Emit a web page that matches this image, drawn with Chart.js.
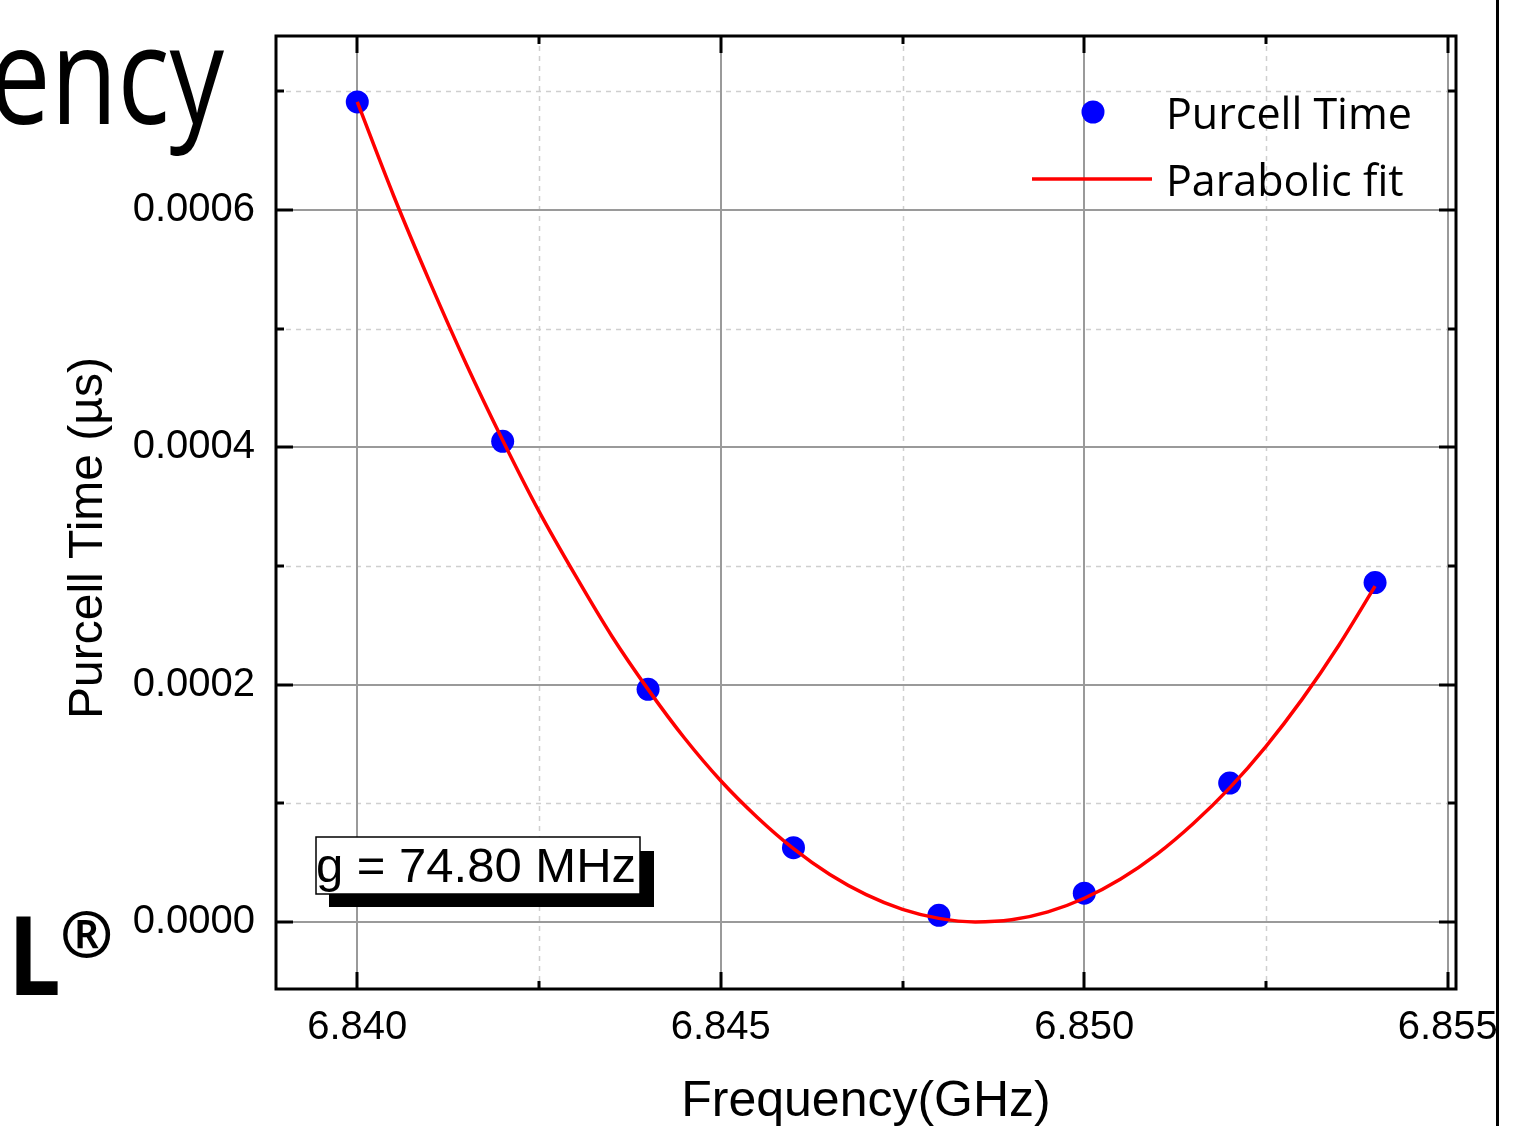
<!DOCTYPE html>
<html>
<head>
<meta charset="utf-8">
<script src="https://cdn.jsdelivr.net/npm/chart.js@4.4.1/dist/chart.umd.min.js"></script>
<style>
  html, body { margin: 0; padding: 0; background: #fff; }
  #wrap { position: relative; width: 1524px; height: 1126px; }
</style>
</head>
<body>
<div id="wrap"><canvas id="purcell" width="1524" height="1126"></canvas></div>
<script>
// measured points
const freqPoints = [6.840, 6.842, 6.844, 6.846, 6.848, 6.850, 6.852, 6.854]
const purcellTime = [0.000691, 0.000405, 0.000196, 0.0000626, 0.0000056, 0.0000242, 0.000117, 0.000286]

// parabolic fit, every 0.5 MHz
const fitFreq = [6.8400, 6.8405, 6.8410, 6.8415, 6.8420, 6.8425, 6.8430, 6.8435, 6.8440, 6.8445,
                 6.8450, 6.8455, 6.8460, 6.8465, 6.8470, 6.8475, 6.8480, 6.8485, 6.8490, 6.8495,
                 6.8500, 6.8505, 6.8510, 6.8515, 6.8520, 6.8525, 6.8530, 6.8535, 6.8540]
const fitTime = [0.000691, 0.000612, 0.000539, 0.000470, 0.000406, 0.000346, 0.000292, 0.000241, 0.000196, 0.000155,
                 0.000119, 0.0000883, 0.0000618, 0.0000400, 0.0000230, 0.0000106, 0.0000030, 0.0000000, 0.0000018, 0.0000085,
                 0.0000200, 0.0000362, 0.0000572, 0.0000830, 0.000113, 0.000148, 0.000188, 0.000233, 0.000283]

// axis ticks
const xMajorTicks = [6.840, 6.845, 6.850, 6.855]
const xMinorTicks = [6.8425, 6.8475, 6.8525]
const yMajorTicks = [0.0000, 0.0002, 0.0004, 0.0006]
const yMinorTicks = [0.0001, 0.0003, 0.0005, 0.0007]

const legendLabels = ["Purcell Time", "Parabolic fit"]
const noteText = "g = 74.80 MHz"

function isIn(v, arr) {
    return arr.some(a => Math.abs(a - v) < 1e-9)
}

function toXY(xs, ys) {
    return xs.map((x, i) => ({ x: x, y: ys[i] }))
}

const decor = {
    id: 'decor',
    beforeDatasetsDraw(chart) {
        const ctx = chart.ctx
        const a = chart.chartArea
        const xs = chart.scales.x, ys = chart.scales.y
        ctx.save()
        // minor grid, dashed
        ctx.strokeStyle = '#cfcfcf'
        ctx.lineWidth = 1.5
        ctx.setLineDash([5, 5])
        xMinorTicks.forEach(v => {
            const px = Math.round(xs.getPixelForValue(v)) + 0.5
            ctx.beginPath(); ctx.moveTo(px, a.top); ctx.lineTo(px, a.bottom); ctx.stroke()
        })
        yMinorTicks.forEach(v => {
            const py = Math.round(ys.getPixelForValue(v)) + 0.5
            ctx.beginPath(); ctx.moveTo(a.left, py); ctx.lineTo(a.right, py); ctx.stroke()
        })
        // major grid
        ctx.setLineDash([])
        ctx.strokeStyle = '#9a9a9a'
        ctx.lineWidth = 2
        xMajorTicks.forEach(v => {
            const px = Math.round(xs.getPixelForValue(v))
            ctx.beginPath(); ctx.moveTo(px, a.top); ctx.lineTo(px, a.bottom); ctx.stroke()
        })
        yMajorTicks.forEach(v => {
            const py = Math.round(ys.getPixelForValue(v))
            ctx.beginPath(); ctx.moveTo(a.left, py); ctx.lineTo(a.right, py); ctx.stroke()
        })
        ctx.restore()
    },
    afterDatasetsDraw(chart) {
        const ctx = chart.ctx
        const a = chart.chartArea
        const xs = chart.scales.x, ys = chart.scales.y
        ctx.save()

        // frame
        ctx.strokeStyle = '#000'
        ctx.lineWidth = 3
        ctx.strokeRect(a.left, a.top, a.right - a.left, a.bottom - a.top)

        // inward tick marks on all four sides
        ctx.lineWidth = 3
        const tick = (x1, y1, x2, y2) => { ctx.beginPath(); ctx.moveTo(x1, y1); ctx.lineTo(x2, y2); ctx.stroke() }
        xMajorTicks.concat(xMinorTicks).forEach(v => {
            const px = Math.round(xs.getPixelForValue(v))
            const len = isIn(v, xMajorTicks) ? 17 : 8
            tick(px, a.bottom, px, a.bottom - len)
            tick(px, a.top, px, a.top + len)
        })
        yMajorTicks.concat(yMinorTicks).forEach(v => {
            const py = Math.round(ys.getPixelForValue(v))
            const len = isIn(v, yMajorTicks) ? 17 : 8
            tick(a.left, py, a.left + len, py)
            tick(a.right, py, a.right - len, py)
        })

        // legend
        ctx.fillStyle = '#0000ff'
        ctx.beginPath(); ctx.arc(1093, 112, 11.5, 0, Math.PI * 2); ctx.fill()
        ctx.strokeStyle = '#ff0000'
        ctx.lineWidth = 3.5
        tick(1032, 179, 1152, 179)
        ctx.fillStyle = '#000'
        ctx.font = '43px "Open Sans"'
        ctx.textAlign = 'left'
        ctx.textBaseline = 'alphabetic'
        ctx.fillText(legendLabels[0], 1166, 129)
        ctx.fillText(legendLabels[1], 1166, 196)

        // g annotation with shadow
        ctx.fillStyle = '#000'
        ctx.fillRect(329, 851, 325, 56)
        ctx.fillStyle = '#fff'
        ctx.fillRect(316, 837, 324, 57)
        ctx.strokeStyle = '#000'
        ctx.lineWidth = 1.5
        ctx.strokeRect(316, 837, 324, 57)
        ctx.fillStyle = '#000'
        ctx.font = '49px "Liberation Sans"'
        ctx.fillText(noteText, 316, 882)

        // axis titles
        ctx.font = '50px "Liberation Sans"'
        ctx.textAlign = 'center'
        ctx.fillText('Frequency(GHz)', (a.left + a.right) / 2, 1116)
        ctx.save()
        ctx.translate(102, 538)
        ctx.rotate(-Math.PI / 2)
        ctx.font = '48px "Liberation Sans"'
        ctx.fillText('Purcell Time (\u00b5s)', 0, 0)
        ctx.restore()

        // slide fragments around the plot
        ctx.save()
        ctx.font = '136px "Open Sans"'
        ctx.textAlign = 'right'
        ctx.translate(224, 124)
        ctx.scale(0.8, 1)
        ctx.fillText('ency', 0, 0)
        ctx.restore()
        ctx.textAlign = 'left'
        ctx.save()
        ctx.font = 'bold 110px "Open Sans"'
        ctx.translate(8, 995)
        ctx.scale(0.85, 1)
        ctx.fillText('L', 0, 0)
        ctx.restore()
        ctx.font = 'bold 64px "Open Sans"'
        ctx.fillText('\u00ae', 60, 957)
        ctx.fillRect(1496, 0, 3, 1126)

        ctx.restore()
    }
}

new Chart('purcell', {
    type: 'scatter',
    data: {
        datasets: [{
            label: legendLabels[1],
            data: toXY(fitFreq, fitTime),
            showLine: true,
            borderColor: '#ff0000',
            borderWidth: 3.5,
            pointRadius: 0,
            cubicInterpolationMode: 'monotone',
            order: 0
        }, {
            label: legendLabels[0],
            data: toXY(freqPoints, purcellTime),
            backgroundColor: '#0000ff',
            borderWidth: 0,
            pointRadius: 11.5,
            order: 1
        }]
    },
    options: {
        responsive: false,
        animation: false,
        devicePixelRatio: 1,
        layout: { padding: { top: 36, right: 68, left: 0, bottom: 0 } },
        plugins: { legend: { display: false }, tooltip: { enabled: false } },
        scales: {
            x: {
                type: 'linear',
                min: 6.838882,
                max: 6.855113,
                afterBuildTicks: s => { s.ticks = xMajorTicks.concat(xMinorTicks).sort((p, q) => p - q).map(v => ({ value: v })) },
                afterFit: s => { s.height = 137; s.paddingLeft = 0; s.paddingRight = 0 },
                grid: { display: false, drawTicks: false },
                border: { display: false },
                ticks: {
                    autoSkip: false,
                    maxRotation: 0,
                    padding: 15,
                    color: '#000',
                    font: { family: 'Liberation Sans', size: 40 },
                    callback: v => isIn(v, xMajorTicks) ? v.toFixed(3) : ''
                }
            },
            y: {
                type: 'linear',
                min: -0.0000565,
                max: 0.0007466,
                afterBuildTicks: s => { s.ticks = yMajorTicks.concat(yMinorTicks).sort((p, q) => p - q).map(v => ({ value: v })) },
                afterFit: s => { s.width = 276; s.paddingTop = 0; s.paddingBottom = 0 },
                grid: { display: false, drawTicks: false },
                border: { display: false },
                ticks: {
                    autoSkip: false,
                    padding: 21,
                    color: '#000',
                    font: { family: 'Liberation Sans', size: 40 },
                    callback: v => isIn(v, yMajorTicks) ? v.toFixed(4) : ''
                }
            }
        }
    },
    plugins: [decor]
});
</script>
</body>
</html>
